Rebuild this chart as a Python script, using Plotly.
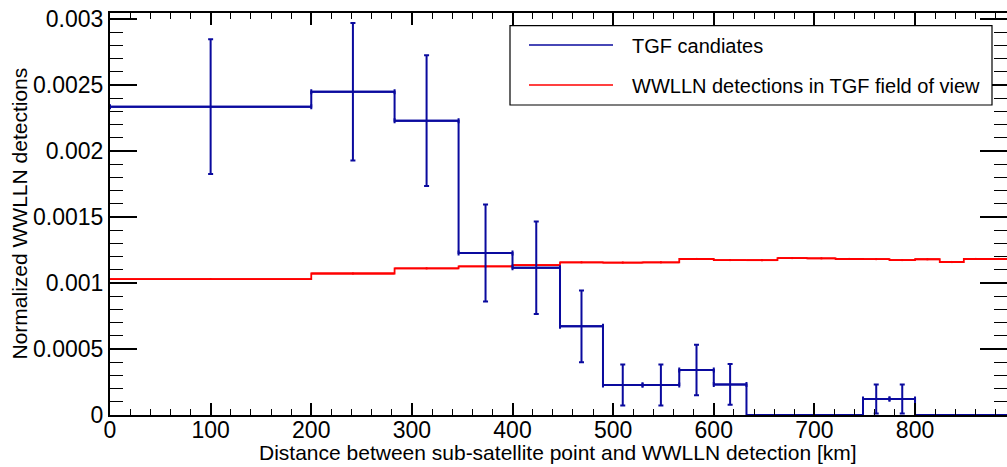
import plotly.graph_objects as go

# ---------------- data ----------------
bin_edges = [0.0, 200.0, 282.8, 346.4, 400.0, 447.2, 489.9, 529.2, 565.7, 600.0,
             632.5, 663.3, 692.8, 721.1, 748.3, 774.6, 800.0, 824.6, 848.5, 871.8, 894.4]

tgf_values = [2.336e-3, 2.449e-3, 2.230e-3, 1.227e-3, 1.116e-3, 0.672e-3, 0.227e-3, 0.227e-3,
              0.341e-3, 0.232e-3, 0.0, 0.0, 0.0, 0.0, 0.121e-3, 0.121e-3, 0.0, 0.0, 0.0, 0.0]
tgf_errors = [0.510e-3, 0.520e-3, 0.495e-3, 0.367e-3, 0.350e-3, 0.272e-3, 0.155e-3, 0.155e-3,
              0.192e-3, 0.155e-3, 0.0, 0.0, 0.0, 0.0, 0.110e-3, 0.110e-3, 0.0, 0.0, 0.0, 0.0]

wwlln_values = [1.030e-3, 1.072e-3, 1.111e-3, 1.126e-3, 1.136e-3, 1.157e-3, 1.155e-3, 1.157e-3,
                1.182e-3, 1.174e-3, 1.173e-3, 1.189e-3, 1.187e-3, 1.182e-3, 1.181e-3, 1.174e-3,
                1.180e-3, 1.159e-3, 1.182e-3, 1.182e-3]
wwlln_errors = [0.006e-3, 0.008e-3, 0.008e-3, 0.008e-3, 0.008e-3, 0.008e-3, 0.008e-3, 0.008e-3,
                0.008e-3, 0.008e-3, 0.008e-3, 0.008e-3, 0.008e-3, 0.008e-3, 0.008e-3, 0.008e-3,
                0.008e-3, 0.008e-3, 0.008e-3, 0.008e-3]

series_names = ["TGF candiates", "WWLLN detections in TGF field of view"]
x_title = "Distance between sub-satellite point and WWLLN detection [km]"
y_title = "Normalized WWLLN detections"

BLUE = "#0a0a9e"
RED = "#ff0000"
FONT = "Liberation Sans, Arial, Helvetica, sans-serif"

W, H = 1007, 467
ML, MR, MT, MB = 110, 0, 13, 52
PW, PH = W - ML - MR, H - MT - MB


def px(x):
    return (x - ML) / PW


def py(y):
    return (H - MB - y) / PH


centers = [(bin_edges[i] + bin_edges[i + 1]) / 2 for i in range(len(bin_edges) - 1)]
halfw = [(bin_edges[i + 1] - bin_edges[i]) / 2 for i in range(len(bin_edges) - 1)]

fig = go.Figure()


def add_hist(values, errors, color, skip_empty, xcap, lw):
    xs = list(bin_edges)
    ys = list(values) + [values[-1]]
    fig.add_trace(go.Scatter(x=xs, y=ys, mode="lines", line=dict(color=color, width=lw, shape="hv"),
                             showlegend=False, hoverinfo="skip"))
    idx = [i for i, v in enumerate(values) if (v > 0 or not skip_empty)]
    fig.add_trace(go.Scatter(
        x=[centers[i] for i in idx], y=[values[i] for i in idx], mode="markers",
        marker=dict(size=1, color=color),
        error_x=dict(type="data", array=[halfw[i] for i in idx], color=color, thickness=lw, width=xcap),
        error_y=dict(type="data", array=[errors[i] for i in idx], color=color, thickness=lw,
                     width=2.5 if skip_empty else 0),
        showlegend=False, hoverinfo="skip"))


add_hist(wwlln_values, wwlln_errors, RED, False, 0, 1.8)
add_hist(tgf_values, tgf_errors, BLUE, True, 2.5, 2)

axis_common = dict(showline=True, linecolor="black", linewidth=2, mirror="allticks",
                   ticks="inside", tickcolor="black", tickwidth=1.5, showgrid=False,
                   zeroline=False, tickfont=dict(family=FONT, size=23, color="black"))

fig.update_xaxes(range=[0, 891.4], tickmode="linear", tick0=0, dtick=100, ticklen=12,
                 ticklabelstandoff=-7,
                 minor=dict(ticks="inside", ticklen=6, dtick=20, tick0=0, tickcolor="black", tickwidth=1.2),
                 **axis_common)
fig.update_yaxes(range=[0, 0.0030455], tickmode="linear", tick0=0, dtick=0.0005, ticklen=27,
                 tickformat="~g",
                 minor=dict(ticks="inside", ticklen=13, dtick=0.0001, tick0=0, tickcolor="black", tickwidth=1.2),
                 **axis_common)

annotations = [
    dict(text=x_title, xref="paper", yref="paper", x=px(558), y=py(452), xanchor="center", yanchor="middle",
         showarrow=False, font=dict(family=FONT, size=21, color="black")),
    dict(text=y_title, xref="paper", yref="paper", x=px(18.5), y=py(214), xanchor="center", yanchor="middle",
         textangle=-90, showarrow=False, font=dict(family=FONT, size=21, color="black")),
    dict(text=series_names[0], xref="paper", yref="paper", x=px(630), y=py(46), xanchor="left", yanchor="middle",
         showarrow=False, font=dict(family=FONT, size=20, color="black")),
    dict(text=series_names[1], xref="paper", yref="paper", x=px(630), y=py(86), xanchor="left", yanchor="middle",
         showarrow=False, font=dict(family=FONT, size=20, color="black")),
]

shapes = [
    dict(type="rect", xref="paper", yref="paper", x0=px(510), x1=px(992), y0=py(105), y1=py(25.7),
         line=dict(color="black", width=1.2), fillcolor="white", layer="above"),
    dict(type="line", xref="paper", yref="paper", x0=px(529), x1=px(613), y0=py(45), y1=py(45),
         line=dict(color=BLUE, width=1.5), layer="above"),
    dict(type="line", xref="paper", yref="paper", x0=px(529), x1=px(613), y0=py(85), y1=py(85),
         line=dict(color=RED, width=1.5), layer="above"),
]

fig.update_layout(width=W, height=H, margin=dict(l=ML, r=MR, t=MT, b=MB, autoexpand=False),
                  paper_bgcolor="white", plot_bgcolor="white", showlegend=False,
                  annotations=annotations, shapes=shapes,
                  font=dict(family=FONT, color="black"))

fig.write_html("out.html")
